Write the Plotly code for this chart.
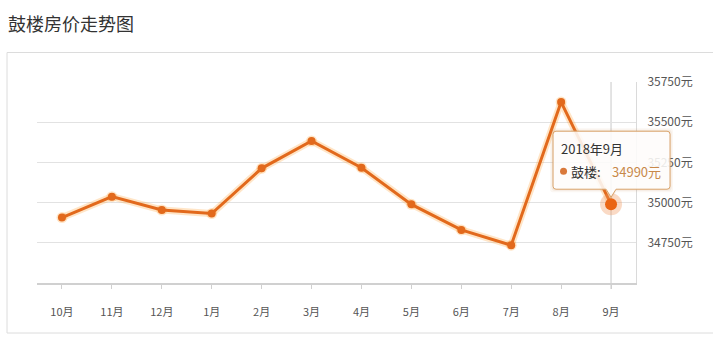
import plotly.graph_objects as go

months = ["10月", "11月", "12月", "1月", "2月", "3月", "4月", "5月", "6月", "7月", "8月", "9月"]
prices = [34907, 35037, 34954, 34932, 35213, 35383, 35217, 34989, 34830, 34735, 35625, 34990]
y_ticks = [34750, 35000, 35250, 35500, 35750]
y_tick_text = ["34750元", "35000元", "35250元", "35500元", "35750元"]
y_range = [34500, 35750]
title_text = "鼓楼房价走势图"
series_name = "鼓楼"
tooltip_date = "2018年9月"

W, H = 713, 352
ML, MR, MT, MB = 37, 77, 82, 69
pw = W - ML - MR
ph = H - MT - MB

def px(x):
    return (x - ML) / pw

def py(y):
    return (H - MB - y) / ph

ORANGE = "#e2691c"
FONT = "Noto Sans CJK SC, Microsoft YaHei, sans-serif"

fig = go.Figure()
fig.add_trace(go.Scatter(x=months, y=prices, mode="lines+markers",
                         line=dict(color="rgba(255,170,70,0.3)", width=7),
                         marker=dict(size=11, color="rgba(255,170,70,0.3)"),
                         hoverinfo="skip", showlegend=False))
fig.add_trace(go.Scatter(x=months, y=prices, mode="lines+markers",
                         line=dict(color=ORANGE, width=3),
                         marker=dict(size=8, color=ORANGE),
                         name=series_name, showlegend=False))
fig.add_trace(go.Scatter(x=[months[-1]], y=[prices[-1]], mode="markers",
                         marker=dict(size=22, color="rgba(240,150,90,0.35)"),
                         hoverinfo="skip", showlegend=False))
fig.add_trace(go.Scatter(x=[months[-1]], y=[prices[-1]], mode="markers",
                         marker=dict(size=12, color="#ea6514"),
                         hoverinfo="skip", showlegend=False))

shapes = []
shapes.append(dict(type="rect", xref="paper", yref="paper",
                   x0=px(7), x1=px(720), y0=py(333), y1=py(52.5),
                   line=dict(color="#dcdcdc", width=1), fillcolor="rgba(0,0,0,0)", layer="below"))
shapes.append(dict(type="line", xref="x", yref="paper",
                   x0=months[-1], x1=months[-1], y0=py(289), y1=1,
                   line=dict(color="#c8c8c8", width=1), layer="below"))

# anchor of the highlighted point, in paper units (unclipped shapes)
ax_paper = (len(months) - 1 + 0.5) / len(months)
ay_paper = (prices[-1] - y_range[0]) / (y_range[1] - y_range[0])

def tip_path(pad):
    l, r, t, b, rad = -58 - pad, 59 + pad, 73 + pad, 15 - pad, 3
    return (f"M {l+rad},{t} L {r-rad},{t} Q {r},{t} {r},{t-rad} L {r},{b+rad} Q {r},{b} {r-rad},{b} "
            f"L 5,{b} L 0,{7 - pad} L -5,{b} "
            f"L {l+rad},{b} Q {l},{b} {l},{b+rad} L {l},{t-rad} Q {l},{t} {l+rad},{t} Z")

pix = dict(xref="paper", yref="paper", xsizemode="pixel", ysizemode="pixel",
           xanchor=ax_paper, yanchor=ay_paper, layer="above")
for pad, col in [(3, "rgba(200,150,100,0.08)"), (1.5, "rgba(200,150,100,0.12)")]:
    shapes.append(dict(type="path", path=tip_path(pad), line=dict(width=0), fillcolor=col, **pix))
shapes.append(dict(type="path", path=tip_path(0), line=dict(color="#d9a26a", width=1),
                   fillcolor="rgba(255,255,255,0.86)", **pix))
shapes.append(dict(type="circle", x0=-51, x1=-44, y0=29.5, y1=36.5,
                   line=dict(width=0), fillcolor="#d9783a", **pix))
fig.update_layout(shapes=shapes)

def tip_text(text, dx, dy, color, size=13):
    fig.add_annotation(x=months[-1], y=prices[-1], xref="x", yref="y", text=text,
                       showarrow=False, xanchor="left", yanchor="middle",
                       xshift=dx, yshift=dy, font=dict(family=FONT, size=size, color=color))

tip_text(tooltip_date, -52, 56, "#333")
tip_text(series_name + ":", -42, 33, "#333")
tip_text(f"{prices[-1]}元", -1, 33, "#c8894a")

fig.add_annotation(x=px(6), y=py(23), xref="paper", yref="paper",
                   text=title_text, showarrow=False, xanchor="left", yanchor="middle",
                   font=dict(family=FONT, size=18, color="#333"))

fig.update_xaxes(type="category", range=[-0.5, len(months) - 0.5],
                 showgrid=False, showline=True, linecolor="#d0d0d0", linewidth=2,
                 ticks="outside", ticklen=4, tickcolor="#d0d0d0",
                 ticklabelstandoff=14,
                 tickfont=dict(family=FONT, size=11, color="#555"), zeroline=False)
fig.update_yaxes(side="right", range=y_range, tickvals=y_ticks, ticktext=y_tick_text,
                 showgrid=True, gridcolor="#e2e2e2", gridwidth=1,
                 showline=True, linecolor="#dadada", linewidth=1, mirror=False,
                 ticks="", ticklabelstandoff=8,
                 tickfont=dict(family=FONT, size=12, color="#555"), zeroline=False)

fig.update_layout(width=W, height=H, margin=dict(l=ML, r=MR, t=MT, b=MB),
                  plot_bgcolor="white", paper_bgcolor="white", hovermode=False)

fig.write_html("out.html")
